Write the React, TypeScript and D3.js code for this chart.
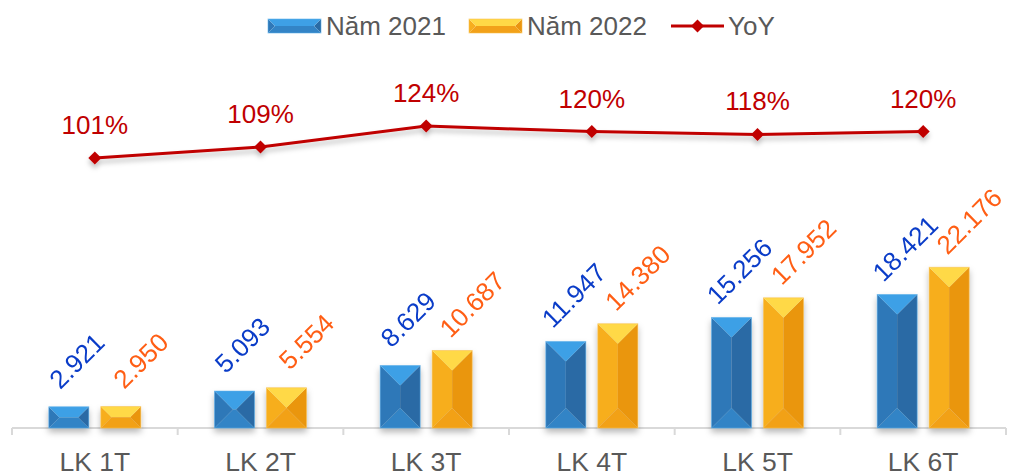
import React from "react";
import * as d3 from "d3";

const categories = ["LK 1T", "LK 2T", "LK 3T", "LK 4T", "LK 5T", "LK 6T"];
const values2021 = [2921, 5093, 8629, 11947, 15256, 18421];
const values2022 = [2950, 5554, 10687, 14380, 17952, 22176];
const yoy = [1.01, 1.09, 1.24, 1.20, 1.18, 1.20];
const seriesNames = ["Năm 2021", "Năm 2022", "YoY"];

const W = 1010;
const H = 476;
const FONT = "'Liberation Sans', Arial, sans-serif";

const blueFacets = { top: "#3EA0E6", left: "#2F78B8", right: "#2A6BA5", bottom: "#3384C6", stroke: "#5AAEEA" };
const orangeFacets = { top: "#FFD946", left: "#F7AE1E", right: "#EA9611", bottom: "#F2A119", stroke: "#F8C050" };

type Facets = typeof blueFacets;

function bevel(x0: number, x1: number, y0: number, y1: number, c: Facets, key: string) {
  const w = x1 - x0;
  const h = y1 - y0;
  const d = Math.min(w / 2, h / 2);
  const p = (pts: number[][]) => pts.map((q) => q.join(",")).join(" ");
  return (
    <g key={key}>
      <polygon points={p([[x0, y0], [x0 + d, y0 + d], [x0 + d, y1 - d], [x0, y1]])} fill={c.left} />
      <polygon points={p([[x1, y0], [x1 - d, y0 + d], [x1 - d, y1 - d], [x1, y1]])} fill={c.right} />
      <polygon points={p([[x0, y0], [x1, y0], [x1 - d, y0 + d], [x0 + d, y0 + d]])} fill={c.top} />
      <polygon points={p([[x0, y1], [x1, y1], [x1 - d, y1 - d], [x0 + d, y1 - d]])} fill={c.bottom} />
      <rect x={x0} y={y0} width={w} height={h} fill="none" stroke={c.stroke} strokeWidth={0.8} opacity={0.7} />
    </g>
  );
}

export default function App() {
  const x = d3.scaleBand<string>().domain(categories).range([12, 1006]).padding(0);
  const y = d3.scaleLinear().domain([0, 25000]).range([428, 246.75]);
  const y2 = d3.scaleLinear().domain([1, 1.3]).range([159.4, 117.7]);
  const bw = x.bandwidth();
  const barW = 40;
  const off = 26;
  const cx = (c: string) => (x(c) as number) + bw / 2;

  const line = d3
    .line<number>()
    .x((_, i) => cx(categories[i]))
    .y((v) => y2(v));

  const diamond = (px: number, py: number, r: number, key: string) => (
    <polygon
      key={key}
      points={`${px},${py - r} ${px + r},${py} ${px},${py + r} ${px - r},${py}`}
      fill="#C00000"
    />
  );

  const fmt = (v: number) => d3.format(",")(v).replace(/,/g, ".");
  const pct = d3.format(".0%");
  const ang = -45;

  return (
    <svg
      width={W}
      height={H}
      style={{ position: "absolute", left: 0, top: 0, background: "#fff" }}
      fontFamily={FONT}
    >
      <defs>
        <filter id="sh" x="-30%" y="-30%" width="160%" height="160%">
          <feDropShadow dx="0" dy="4" stdDeviation="3" floodColor="#000" floodOpacity="0.28" />
        </filter>
        <filter id="shl" x="-10%" y="-50%" width="120%" height="200%">
          <feDropShadow dx="0" dy="4" stdDeviation="2.5" floodColor="#000" floodOpacity="0.25" />
        </filter>
      </defs>

      {/* Legend */}
      <g>
        {bevel(268, 321, 19, 33, blueFacets, "lg1")}
        <text x={326} y={35} fontSize={26} fill="#595959">{seriesNames[0]}</text>
        {bevel(469, 522, 19, 33, orangeFacets, "lg2")}
        <text x={527} y={35} fontSize={26} fill="#595959">{seriesNames[1]}</text>
        <line x1={671} x2={724} y1={26} y2={26} stroke="#C00000" strokeWidth={3} />
        {diamond(697.5, 26, 6.5, "lgd")}
        <text x={728} y={35} fontSize={26} fill="#595959">{seriesNames[2]}</text>
      </g>

      {/* Axis */}
      <line x1={12} x2={1006} y1={428} y2={428} stroke="#D9D9D9" strokeWidth={2} />
      {d3.range(categories.length + 1).map((i) => {
        const tx = 12 + i * bw;
        return <line key={"t" + i} x1={tx} x2={tx} y1={428} y2={435} stroke="#D9D9D9" strokeWidth={2} />;
      })}
      {categories.map((c) => (
        <text key={"cl" + c} x={cx(c)} y={471} fontSize={26.5} fill="#595959" textAnchor="middle">
          {c}
        </text>
      ))}

      {/* Bars */}
      <g filter="url(#sh)">
        {categories.map((c, i) => {
          const b1 = cx(c) - off;
          const b2 = cx(c) + off;
          return (
            <g key={"b" + c}>
              {bevel(b1 - barW / 2, b1 + barW / 2, y(values2021[i]), y(0), blueFacets, "a" + i)}
              {bevel(b2 - barW / 2, b2 + barW / 2, y(values2022[i]), y(0), orangeFacets, "b" + i)}
            </g>
          );
        })}
      </g>

      {/* Bar labels */}
      {categories.map((c, i) => {
        const b1 = cx(c) - off;
        const b2 = cx(c) + off;
        const l1x = b1 + 8;
        const l1y = y(values2021[i]) - 46;
        const l2x = b2 + 20;
        const l2y = y(values2022[i]) - 46;
        return (
          <g key={"bl" + c} fontSize={26}>
            <text
              x={l1x}
              y={l1y}
              textAnchor="middle"
              dominantBaseline="central"
              fill="#0A3CC8"
              transform={`rotate(${ang} ${l1x} ${l1y})`}
            >
              {fmt(values2021[i])}
            </text>
            <text
              x={l2x}
              y={l2y}
              textAnchor="middle"
              dominantBaseline="central"
              fill="#FF5E14"
              transform={`rotate(${ang} ${l2x} ${l2y})`}
            >
              {fmt(values2022[i])}
            </text>
          </g>
        );
      })}

      {/* YoY line */}
      <g filter="url(#shl)">
        <path d={line(yoy) || ""} fill="none" stroke="#C00000" strokeWidth={3} />
        {yoy.map((v, i) => diamond(cx(categories[i]), y2(v), 6.5, "d" + i))}
      </g>
      {yoy.map((v, i) => (
        <text
          key={"pl" + i}
          x={cx(categories[i])}
          y={y2(v) - 24}
          fontSize={26}
          fill="#C00000"
          textAnchor="middle"
        >
          {pct(v)}
        </text>
      ))}
    </svg>
  );
}
